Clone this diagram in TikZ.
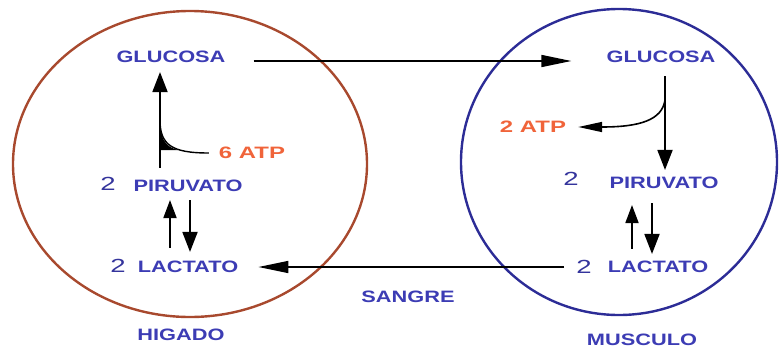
\documentclass[tikz,border=0pt]{standalone}
\usepackage{fontspec}
\usetikzlibrary{arrows.meta, positioning}
\newfontfamily\widefont{Liberation Sans}[FakeStretch=1.32]
\newfontfamily\widerfont{Liberation Sans}[FakeStretch=1.45]
\definecolor{cblue}{HTML}{3C3CB4}
\definecolor{cnum}{HTML}{34349C}
\definecolor{corange}{HTML}{F0643A}
\definecolor{cliver}{HTML}{A8492E}
\definecolor{cmuscle}{HTML}{2C2C96}
\tikzset{
  lbl/.style={text=cblue, font=\widefont\fontsize{16.5}{18}\selectfont\bfseries, inner sep=0pt},
  num/.style={text=cnum, font=\widerfont\fontsize{19}{21}\selectfont, inner sep=0pt},
  atp/.style={text=corange, font=\widerfont\fontsize{16.5}{18}\selectfont\bfseries, inner sep=0pt},
  organ/.style={line width=2.4pt},
  flow/.style={-{Triangle[length=20pt,width=15pt]}, line width=1.8pt},
  pairflow/.style={-{Triangle[length=18pt,width=13pt]}, line width=1.8pt},
  sideflow/.style={-{Triangle[length=24pt,width=10pt]}, line width=1.6pt},
  longflow/.style={-{Triangle[length=30pt,width=12pt]}, line width=1.5pt}
}

\begin{document}
\begin{tikzpicture}[x=1pt, y=-1pt]
  \useasboundingbox (0,0) rectangle (779,351);
  % organs
  \draw[organ, cliver] (190,164) ellipse [x radius=177, y radius=153];
  \draw[organ, cmuscle] (619,162) ellipse [x radius=158, y radius=153];

  % liver
  \node[lbl] (lglu) at (171,57) {GLUCOSA};
  \node[lbl] (lpir) at (188,186) {PIRUVATO};
  \node[num] (l2p) at (108,184) {2};
  \node[lbl] (llac) at (188,267) {LACTATO};
  \node[num] (l2l) at (118,266) {2};
  \node[atp] (latp) at (252,153) {6 ATP};
  \node[lbl] (hig) at (181,335) {HIGADO};

  % muscle
  \node[lbl] (rglu) at (661,57) {GLUCOSA};
  \node[lbl] (rpir) at (664,183) {PIRUVATO};
  \node[num] (r2p) at (571,179) {2};
  \node[lbl] (rlac) at (658,267) {LACTATO};
  \node[num] (r2l) at (584,267) {2};
  \node[atp] (ratp) at (533,127) {2 ATP};
  \node[lbl] (musc) at (642,340) {MUSCULO};

  \node[lbl] (sangre) at (408,297) {SANGRE};

  % blood
  \draw[longflow] ([xshift=28pt,yshift=-4pt]lglu.east) -- ([xshift=-35pt,yshift=-4pt]rglu.west);
  \draw[longflow] ([xshift=-12pt]r2l.west) -- ([xshift=20pt]llac.east);

  % liver arrows
  \coordinate (lfork) at (160,120);
  \draw[flow] ([xshift=-28pt,yshift=12pt]lpir.north) -- ([xshift=-11pt,yshift=-9pt]lglu.south);
  \draw[line width=1.4pt] (lfork) .. controls (160,145) and (172,153) .. ([xshift=-10pt]latp.west);
  \fill (160,120) .. controls (160,138) and (165,147) .. (178,150) -- (160,150) -- cycle;
  \draw[pairflow] ([xshift=-18pt,yshift=13pt]llac.north) -- ([xshift=-18pt,yshift=-8pt]lpir.south);
  \draw[flow] ([xshift=2pt,yshift=-8pt]lpir.south) -- ([xshift=2pt,yshift=9pt]llac.north);

  % muscle arrows
  \coordinate (rfork) at (665,100);
  \draw[flow] ([xshift=4pt,yshift=-13pt]rglu.south) -- ([xshift=1pt,yshift=7pt]rpir.north);
  \draw[sideflow] (rfork) .. controls (662,120) and (640,127) .. ([xshift=12pt]ratp.east);
  \draw[pairflow] ([xshift=-26pt,yshift=12pt]rlac.north) -- ([xshift=-32pt,yshift=-16pt]rpir.south);
  \draw[flow] ([xshift=-12pt,yshift=-14pt]rpir.south) -- ([xshift=-6pt,yshift=7pt]rlac.north);
\end{tikzpicture}
\end{document}
